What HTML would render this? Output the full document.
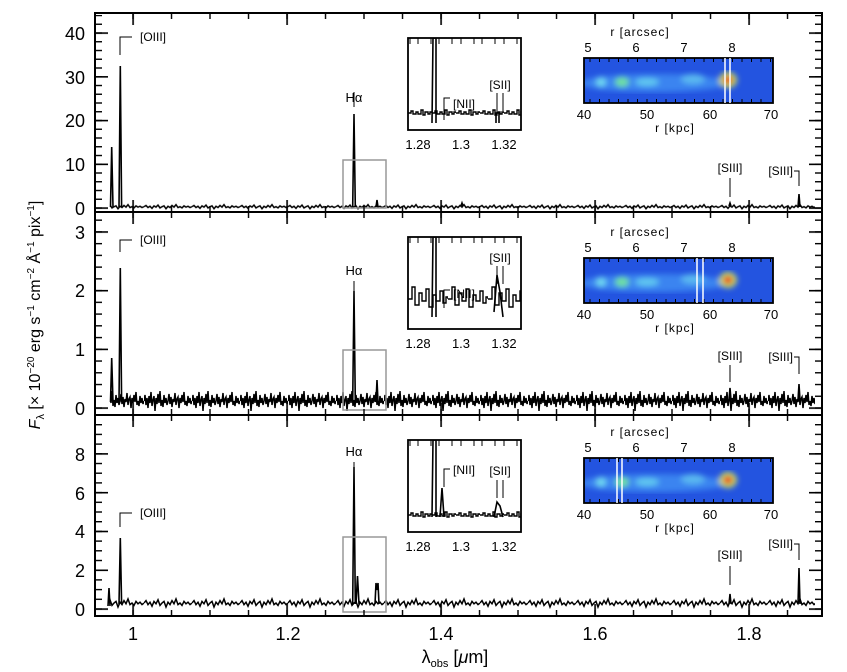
<!DOCTYPE html><html><head><meta charset="utf-8"><style>body{margin:0;background:#fff}svg{display:block;font-family:"Liberation Sans",sans-serif}</style></head><body>
<svg width="847" height="672" xmlns="http://www.w3.org/2000/svg">
<defs>
<filter id="bl"><feGaussianBlur stdDeviation="3"/></filter>
<clipPath id="ic"><rect x="0" y="0" width="189" height="45"/></clipPath>
<pattern id="nz1" x="0" y="202.7" width="48" height="8" patternUnits="userSpaceOnUse"><path d="M0 4L2 2.8L4 4.8L6 3.6L8 5.6L10 3.2L12 4.4L14 2.4L16 5.2L18 4L20 3.2L22 6L24 3.6L26 4.8L28 2.8L30 4.4L32 2L34 4.8L36 4L38 5.2L40 3.2L42 4.4L44 3.6L46 4.8L48 4" fill="none" stroke="#000" stroke-width="1.5"/></pattern>
<pattern id="nz2" x="0" y="386" width="48" height="30" patternUnits="userSpaceOnUse"><path d="M0 15L1 9L2 19L3 12L4 22L5 10L6 17L7 6L8 20L9 14L10 10L11 25L12 12L13 18L14 8L15 17L16 5L17 20L18 14L19 21L20 9L21 17L22 12L23 19L24 15L25 8L26 18L27 11L28 21L29 13L30 16L31 7L32 19L33 13L34 11L35 22L36 12L37 17L38 9L39 16L40 6L41 19L42 15L43 20L44 10L45 17L46 12L47 18L48 15" fill="none" stroke="#000" stroke-width="1.5"/></pattern>
<pattern id="nz3" x="0" y="595" width="48" height="16" patternUnits="userSpaceOnUse"><path d="M0 8L2 5.6L4 9.6L6 7.2L8 11.2L10 6.4L12 8.8L14 4.8L16 10.4L18 8L20 6.4L22 12L24 7.2L26 9.6L28 5.6L30 8.8L32 4L34 9.6L36 8L38 10.4L40 6.4L42 8.8L44 7.2L46 9.6L48 8" fill="none" stroke="#000" stroke-width="1.5"/></pattern>
<pattern id="nzi" x="0" y="0" width="24" height="30" patternUnits="userSpaceOnUse"><path d="M0 15H3V13H5V16H8V14H10V16H13V12H15V17H17V14H20V16H22V14H24V15" fill="none" stroke="#000" stroke-width="1.4"/></pattern>
<pattern id="nzi2" x="0" y="0" width="40" height="40" patternUnits="userSpaceOnUse"><path d="M0 22H4V10H7V28H11V16H14V24H18V12H21V30H25V18H28V24H32V14H35V26H38V20H40V22" fill="none" stroke="#000" stroke-width="1.4"/></pattern>
<pattern id="txm" x="132.3" y="0" width="38.5" height="700" patternUnits="userSpaceOnUse"><rect width="1.4" height="700"/></pattern>
<pattern id="txM" x="132.3" y="0" width="154" height="700" patternUnits="userSpaceOnUse"><rect width="1.6" height="700"/></pattern>
<pattern id="y1m" x="0" y="207.3" width="900" height="8.75" patternUnits="userSpaceOnUse"><rect width="900" height="1.4"/></pattern>
<pattern id="y1M" x="0" y="207.3" width="900" height="43.75" patternUnits="userSpaceOnUse"><rect width="900" height="1.6"/></pattern>
<pattern id="y2m" x="0" y="407.3" width="900" height="11.74" patternUnits="userSpaceOnUse"><rect width="900" height="1.4"/></pattern>
<pattern id="y2M" x="0" y="407.3" width="900" height="58.7" patternUnits="userSpaceOnUse"><rect width="900" height="1.6"/></pattern>
<pattern id="y3m" x="0" y="608.3" width="900" height="9.7" patternUnits="userSpaceOnUse"><rect width="900" height="1.4"/></pattern>
<pattern id="y3M" x="0" y="608.3" width="900" height="38.8" patternUnits="userSpaceOnUse"><rect width="900" height="1.6"/></pattern>
<g id="img">
<g clip-path="url(#ic)">
<rect x="0" y="0" width="189" height="45" fill="#2354e0"/>
<g filter="url(#bl)"><ellipse cx="70" cy="25" rx="75" ry="9" fill="#3a84f0"/><ellipse cx="17" cy="24" rx="5" ry="5" fill="#70d8f0"/><ellipse cx="38" cy="24" rx="7" ry="5" fill="#70e0a0"/><ellipse cx="63" cy="24" rx="12" ry="4" fill="#60c8f0"/><ellipse cx="109" cy="21" rx="12" ry="5" fill="#5ab8f0"/><ellipse cx="144" cy="22" rx="9" ry="8" fill="#c8e060"/><ellipse cx="144" cy="22" rx="5" ry="4" fill="#e82020"/></g>
</g>
<rect x="0" y="0" width="189" height="45" fill="none" stroke="#000" stroke-width="1.8"/>
<path d="M6 0v4M15.5 0v4M25 0v4M34.5 0v4M44 0v4M53.5 0v4M63 0v4M72.5 0v4M82 0v4M91.5 0v4M101 0v4M110.5 0v4M120 0v4M129.5 0v4M139 0v4M148.5 0v4M158 0v4M167.5 0v4M177 0v4M186.5 0v4M6 45v-4M15.5 45v-4M25 45v-4M34.5 45v-4M44 45v-4M53.5 45v-4M63 45v-4M72.5 45v-4M82 45v-4M91.5 45v-4M101 45v-4M110.5 45v-4M120 45v-4M129.5 45v-4M139 45v-4M148.5 45v-4M158 45v-4M167.5 45v-4M177 45v-4" stroke="#000"/>
<text x="56" y="-22" font-size="12" text-anchor="middle" letter-spacing="1">r [arcsec]</text>
<text x="4" y="-6" font-size="13" text-anchor="middle">5</text><text x="52" y="-6" font-size="13" text-anchor="middle">6</text><text x="100" y="-6" font-size="13" text-anchor="middle">7</text><text x="148" y="-6" font-size="13" text-anchor="middle">8</text>
<text x="0" y="61" font-size="13" text-anchor="middle">40</text><text x="63" y="61" font-size="13" text-anchor="middle">50</text><text x="126" y="61" font-size="13" text-anchor="middle">60</text><text x="187" y="61" font-size="13" text-anchor="middle">70</text>
<text x="91" y="74" font-size="12" text-anchor="middle" letter-spacing="1">r [kpc]</text>
</g>
<g id="itk"><path d="M410 0v6M418 0v6M431 0v6M439 0v6M452 0v6M461 0v6M474 0v6M482 0v6M495 0v6M504 0v6M517 0v6" stroke="#000"/>
<text x="418" y="111" font-size="13" text-anchor="middle">1.28</text><text x="461" y="111" font-size="13" text-anchor="middle">1.3</text><text x="504" y="111" font-size="13" text-anchor="middle">1.32</text></g>
</defs>

<rect x="110" y="202.7" width="705" height="8" fill="url(#nz1)"/>
<rect x="110" y="386" width="705" height="30" fill="url(#nz2)"/>
<rect x="110" y="595" width="705" height="16" fill="url(#nz3)"/>
<g fill="none" stroke="#000" stroke-width="1.6">
<path d="M110.5 207L111.7 147L113 207M119 207L120.3 66L121.6 207M352.7 207L354 114L355.3 207M376 207L377 200L378 207M729 206L730 203L731 206M798 207L799 194L800 207M461 206L462 203L463 206"/>
<path d="M110.5 402L111.7 358L113 402M119 402L120.3 268L121.6 402M352.7 402L354 291L355.3 402M376 402L377 380L378 402M729 400L730 388L731 400M798 400L799 384L800 400"/>
<path d="M108 606L109 588L110 606M119 604L120.3 538L121.6 604M352.7 604L354 467L355.3 604M356 604L357.5 576L359 604M375 604L376 583L377 590L378 583L379 604M729 604L730 594L731 604M798 604L799 568L800 604"/>
</g>
<g fill="none" stroke="#999" stroke-width="1.5"><rect x="343" y="160" width="43" height="48"/><rect x="343" y="350" width="43" height="60"/><rect x="343" y="537" width="43" height="75"/></g>
<g fill="none" stroke="#000" stroke-width="2"><rect x="95" y="13" width="727" height="199"/><rect x="95" y="212" width="727" height="203"/><rect x="95" y="415" width="727" height="201"/></g>
<g>
<rect x="96" y="13" width="725" height="6" fill="url(#txm)"/><rect x="96" y="206" width="725" height="6" fill="url(#txm)"/><rect x="96" y="13" width="725" height="12" fill="url(#txM)"/><rect x="96" y="200" width="725" height="12" fill="url(#txM)"/>
<rect x="96" y="212" width="725" height="6" fill="url(#txm)"/><rect x="96" y="409" width="725" height="6" fill="url(#txm)"/><rect x="96" y="212" width="725" height="12" fill="url(#txM)"/><rect x="96" y="403" width="725" height="12" fill="url(#txM)"/>
<rect x="96" y="415" width="725" height="6" fill="url(#txm)"/><rect x="96" y="610" width="725" height="6" fill="url(#txm)"/><rect x="96" y="415" width="725" height="12" fill="url(#txM)"/><rect x="96" y="604" width="725" height="12" fill="url(#txM)"/>
</g>
<rect x="96" y="15" width="6" height="195" fill="url(#y1m)"/><rect x="815" y="15" width="6" height="195" fill="url(#y1m)"/><rect x="96" y="15" width="12" height="195" fill="url(#y1M)"/><rect x="809" y="15" width="12" height="195" fill="url(#y1M)"/>
<rect x="96" y="214" width="6" height="196" fill="url(#y2m)"/><rect x="815" y="214" width="6" height="196" fill="url(#y2m)"/><rect x="96" y="214" width="12" height="196" fill="url(#y2M)"/><rect x="809" y="214" width="12" height="196" fill="url(#y2M)"/>
<rect x="96" y="417" width="6" height="194" fill="url(#y3m)"/><rect x="815" y="417" width="6" height="194" fill="url(#y3m)"/><rect x="96" y="417" width="12" height="194" fill="url(#y3M)"/><rect x="809" y="417" width="12" height="194" fill="url(#y3M)"/>
<g font-size="18" text-anchor="end">
<text x="85" y="215">0</text><text x="85" y="171">10</text><text x="85" y="127">20</text><text x="85" y="84">30</text><text x="85" y="40">40</text>
<text x="85" y="415">0</text><text x="85" y="356">1</text><text x="85" y="297">2</text><text x="85" y="239">3</text>
<text x="85" y="616">0</text><text x="85" y="577">2</text><text x="85" y="538">4</text><text x="85" y="500">6</text><text x="85" y="461">8</text>
</g>
<g font-size="12" fill="#000">
<text x="354" y="102" font-size="13" text-anchor="middle">Hα</text><line x1="354" y1="92" x2="354" y2="107" stroke="#000"/>
<text x="354" y="275" font-size="13" text-anchor="middle">Hα</text><line x1="354" y1="281" x2="354" y2="297" stroke="#000"/>
<text x="354" y="456" font-size="13" text-anchor="middle">Hα</text><line x1="354" y1="462" x2="354" y2="480" stroke="#000"/>
<path d="M120 55V37H132M120 252V240H132M120 527V513H132" fill="none" stroke="#000"/>
<text x="140" y="41">[OIII]</text><text x="140" y="244">[OIII]</text><text x="140" y="517">[OIII]</text>
<text x="730" y="172" text-anchor="middle">[SIII]</text><line x1="730" y1="178" x2="730" y2="197" stroke="#000"/>
<text x="730" y="360" text-anchor="middle">[SIII]</text><line x1="730" y1="365" x2="730" y2="382" stroke="#000"/>
<text x="730" y="559" text-anchor="middle">[SIII]</text><line x1="730" y1="566" x2="730" y2="585" stroke="#000"/>
<text x="793" y="175" text-anchor="end">[SIII]</text><path d="M794 171H799V186" fill="none" stroke="#000"/>
<text x="793" y="361" text-anchor="end">[SIII]</text><path d="M794 357H799V374" fill="none" stroke="#000"/>
<text x="793" y="548" text-anchor="end">[SIII]</text><path d="M794 544H799V560" fill="none" stroke="#000"/>
</g>
<g>
<svg x="408" y="38" width="113" height="92" overflow="hidden"><rect x="0" y="70" width="113" height="30" fill="url(#nzi)"/><path d="M24 85L25 0L28 0L28 85M88 85V75H91V85" fill="none" stroke="#000" stroke-width="1.6"/></svg>
<rect x="408" y="38" width="113" height="92" fill="none" stroke="#000" stroke-width="1.8"/>
<use href="#itk" y="38"/>
<path d="M444 120V98H450" fill="none" stroke="#000"/><text x="453" y="108" font-size="12">[NII]</text>
<text x="500" y="89" font-size="12" text-anchor="middle">[SII]</text><path d="M497 93v18M503 93v18" stroke="#000"/>

<svg x="408" y="237" width="113" height="92" overflow="hidden"><rect x="0" y="45" width="113" height="40" fill="url(#nzi2)"/><path d="M24 80L25 0L28 0L28 80M86 75L89 38L92 55L95 80" fill="none" stroke="#000" stroke-width="1.6"/></svg>
<rect x="408" y="237" width="113" height="92" fill="none" stroke="#000" stroke-width="1.8"/>
<use href="#itk" y="237"/>
<path d="M444 308V290H450" fill="none" stroke="#000"/><text x="453" y="298" font-size="12">[NII]</text>
<text x="500" y="262" font-size="12" text-anchor="middle">[SII]</text><path d="M497 266v18M503 266v18" stroke="#000"/>

<svg x="408" y="440" width="113" height="92" overflow="hidden"><rect x="0" y="62" width="113" height="30" fill="url(#nzi)"/><path d="M24 77L25 0L28 0L28 77M32 77L34 48L36 77M86 77L89 62L92 66L95 77" fill="none" stroke="#000" stroke-width="1.6"/></svg>
<rect x="408" y="440" width="113" height="92" fill="none" stroke="#000" stroke-width="1.8"/>
<use href="#itk" y="440"/>
<path d="M444 487V469H450" fill="none" stroke="#000"/><text x="453" y="474" font-size="12">[NII]</text>
<text x="500" y="475" font-size="12" text-anchor="middle">[SII]</text><path d="M497 480v18M503 480v18" stroke="#000"/>
</g>
<use href="#img" x="584" y="58"/>
<path d="M725 58v45M730 58v45" stroke="#fff" stroke-width="1.5"/>
<use href="#img" x="584" y="258"/>
<path d="M697 258v45M703 258v45" stroke="#fff" stroke-width="1.5"/>
<use href="#img" x="584" y="458"/>
<path d="M617 458v45M622 458v45" stroke="#fff" stroke-width="1.5"/>
<g font-size="18" text-anchor="middle"><text x="133" y="640">1</text><text x="288" y="640">1.2</text><text x="441" y="640">1.4</text><text x="595" y="640">1.6</text><text x="749" y="640">1.8</text></g>
<text x="455" y="663" font-size="18" text-anchor="middle">λ<tspan font-size="11" dy="4">obs</tspan><tspan dy="-4"> [</tspan><tspan font-style="italic">μ</tspan>m]</text>
<text transform="translate(40,315) rotate(-90)" font-size="16" text-anchor="middle"><tspan font-style="italic">F</tspan><tspan font-size="11" dy="4">λ</tspan><tspan dy="-4"> [× 10</tspan><tspan font-size="10" dy="-6">−20</tspan><tspan dy="6"> erg s</tspan><tspan font-size="10" dy="-6">−1</tspan><tspan dy="6"> cm</tspan><tspan font-size="10" dy="-6">−2</tspan><tspan dy="6"> Å</tspan><tspan font-size="10" dy="-6">−1</tspan><tspan dy="6"> pix</tspan><tspan font-size="10" dy="-6">−1</tspan><tspan dy="6">]</tspan></text>
</svg>
</body></html>
